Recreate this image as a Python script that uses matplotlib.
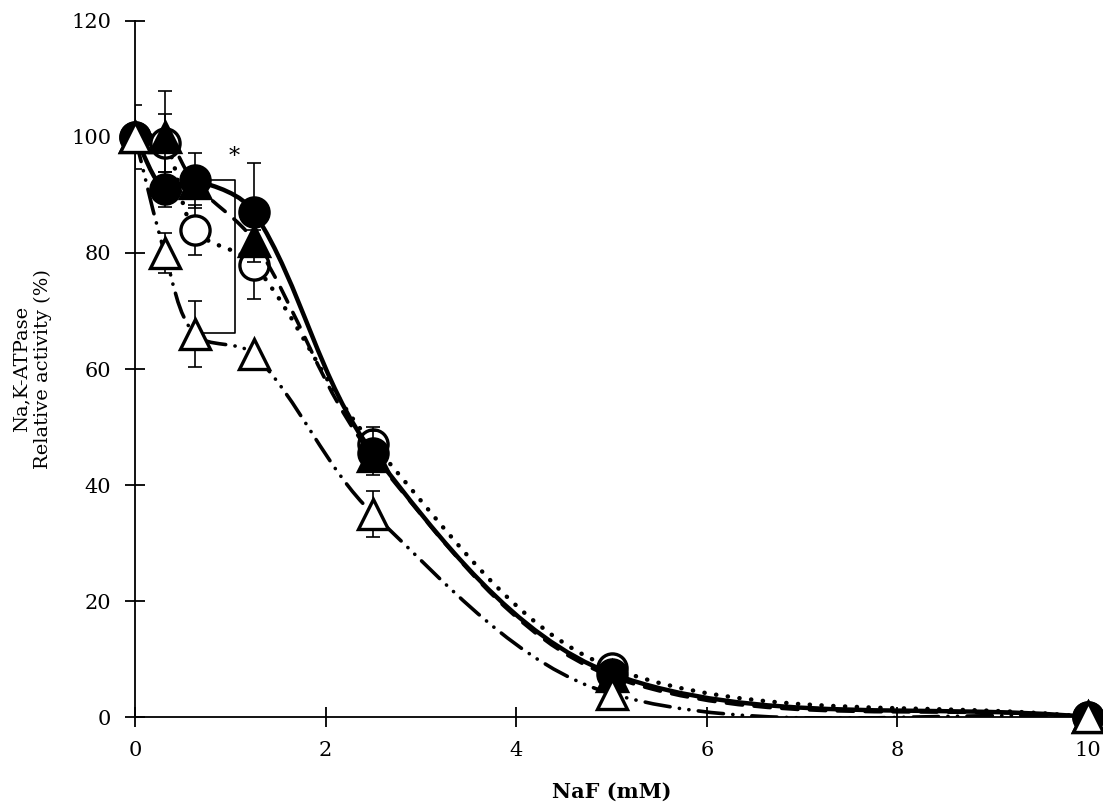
import numpy as np
import matplotlib
matplotlib.use('agg')
import matplotlib.pyplot as plt
from matplotlib.path import Path
from matplotlib.patches import PathPatch

plt.rcParams['font.family'] = ['DejaVu Serif']

# NaF concentrations (mM)
naf = [0, 0.3125, 0.625, 1.25, 2.5, 5, 10]

# relative activity (%) and error bars, one pair per series
filled_circle = [100, 91, 92.5, 87, 45.5, 7.5, 0]
filled_circle_err = [0, 3, 4.7, 8.5, 3.8, 0, 0]
open_circle = [100, 99, 84, 78, 47, 8.5, 0]
open_circle_err = [0, 5, 4.3, 6, 3, 0, 0]
filled_triangle = [100, 100, 92, 82, 45, 7, 0]
filled_triangle_err = [5.5, 8, 0, 0, 0, 0, 0]
open_triangle = [100, 80, 66, 62.5, 35, 4, 0]
open_triangle_err = [0, 3.5, 5.7, 0, 4, 0, 0]

xticks = [0, 2, 4, 6, 8, 10]
yticks = [0, 20, 40, 60, 80, 100, 120]

# significance bracket between the two groups at 0.625 mM
bracket_x = 1.05
bracket_top = 92.6
bracket_bottom = 66.2


def smooth_path(ax, x, y):
    # Excel-like smoothed line: Bezier segments with control arms
    # weighted by the on-screen length of the neighbouring segments
    pts = np.column_stack([x, y]).astype(float)
    scr = ax.transData.transform(pts)
    n = len(pts)
    d = np.hypot(*np.diff(scr, axis=0).T)
    verts = [pts[0]]
    codes = [Path.MOVETO]
    for i in range(n - 1):
        p1, p2 = pts[i], pts[i + 1]
        if i > 0:
            w = d[i] / (d[i - 1] + d[i])
            c1 = p1 + (p2 - pts[i - 1]) * w / 3
        else:
            c1 = p1 + (p2 - p1) / 3
        if i + 2 < n:
            w = d[i] / (d[i] + d[i + 1])
            c2 = p2 - (pts[i + 2] - p1) * w / 3
        else:
            c2 = p2 - (p2 - p1) / 3
        verts += [c1, c2, p2]
        codes += [Path.CURVE4] * 3
    return Path(verts, codes)


fig = plt.figure(figsize=(11.03, 8.07), dpi=100)
ax = fig.add_axes([0.1224, 0.1115, 0.864, 0.8625])
ax.set_xlim(0, 10)
ax.set_ylim(0, 120)

series = [
    (open_circle, open_circle_err, 'o', 'white', (0, (0.05, 2.6)), 3.2, 2),
    (filled_triangle, filled_triangle_err, '^', 'black', (0, (4.5, 3.2)), 2.6, 3),
    (filled_circle, filled_circle_err, 'o', 'black', 'solid', 3.2, 4),
    (open_triangle, open_triangle_err, '^', 'white', (0, (7, 2.6, 0.05, 2.6, 0.05, 2.6)), 2.6, 5),
]

for y, err, mk, face, ls, lw, z in series:
    patch = PathPatch(smooth_path(ax, naf, y), fill=False, edgecolor='black',
                      linewidth=lw, linestyle=ls, capstyle='round', zorder=z)
    ax.add_patch(patch)
    ax.errorbar(naf, y, yerr=err, fmt='none', ecolor='black', elinewidth=1.2,
                capsize=5, capthick=1.2, zorder=z)
    ms = 21 if mk == 'o' else 22
    ax.plot(naf, y, linestyle='none', marker=mk, markersize=ms,
            markerfacecolor=face, markeredgecolor='black', markeredgewidth=2.4,
            clip_on=False, zorder=z + 0.5)

ax.plot([0.8, bracket_x, bracket_x, 0.68],
        [bracket_top, bracket_top, bracket_bottom, bracket_bottom],
        color='black', linewidth=1.2, zorder=1)
ax.text(1.04, 96.5, '*', ha='center', va='center', fontsize=16)

ax.set_xticks(xticks)
ax.set_yticks(yticks)
ax.spines['top'].set_visible(False)
ax.spines['right'].set_visible(False)
ax.spines['left'].set_linewidth(1.3)
ax.spines['bottom'].set_linewidth(1.3)
ax.tick_params(direction='inout', length=14, width=1.3, labelsize=15, pad=10)
ax.set_xlabel('NaF (mM)', fontsize=15, fontweight='bold', labelpad=16)
ax.set_ylabel('Na,K-ATPase\nRelative activity (%)', fontsize=14, labelpad=14)

fig.savefig('out.png', dpi=100)
